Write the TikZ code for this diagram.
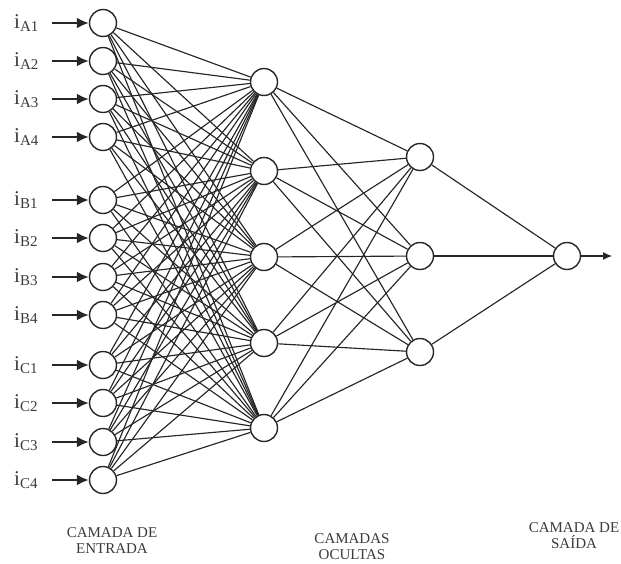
\documentclass[tikz,border=0pt]{standalone}
\usepackage{fontspec}
\setmainfont{Liberation Serif}
\usetikzlibrary{arrows.meta}
\definecolor{ink}{HTML}{262626}
\definecolor{txt}{HTML}{3A3A3A}
\newcommand{\inlab}[1]{\fontsize{21}{21}\selectfont i\raisebox{-0.35ex}{\fontsize{15}{15}\selectfont #1}}
\tikzset{
  neuron/.style={circle,draw=ink,line width=1.4pt,fill=white,minimum size=27pt,inner sep=0pt},
  conn/.style={draw=ink,line width=1.15pt},
  inarrow/.style={draw=ink,line width=2.2pt,-{Latex[length=12pt,width=11pt]}},
  outarrow/.style={draw=ink,line width=1.2pt,-{Latex[length=9pt,width=8pt]}},
  inlabel/.style={anchor=base west,inner sep=0pt,text=txt},
  layerlabel/.style={align=center,text=txt,font=\fontsize{15}{16}\selectfont,inner sep=0pt}
}
\begin{document}
\begin{tikzpicture}[x=1pt,y=-1pt]
\useasboundingbox (0,0) rectangle (621,563);
% input layer
\foreach \i/\y/\l in {1/23/A1,2/61/A2,3/99/A3,4/137/A4,5/200/B1,6/238/B2,7/277/B3,8/315/B4,9/365/C1,10/403/C2,11/442/C3,12/480/C4}{
  \coordinate (a\i) at (52,\y);
  \node[inlabel] (lab\i) at (14,\y+5) {\inlab{\l}};
  \node[neuron] (in\i) at (103,\y) {};
}
% hidden 1
\foreach \j/\y in {1/82,2/171,3/257,4/343,5/428}{
  \node[neuron] (h\j) at (264,\y) {};
}
% hidden 2
\foreach \k/\y in {1/157,2/256,3/352}{
  \node[neuron] (g\k) at (420,\y) {};
}
\node[neuron] (out) at (567,256) {};
\coordinate (oe) at (612,256);
\foreach \i in {1,...,12}{
  \foreach \j in {1,...,5}{
    \draw[conn] (in\i) -- (h\j);
  }
  \draw[inarrow] (a\i) -- (in\i);
}
\foreach \j in {1,...,5}{
  \foreach \k in {1,...,3}{
    \draw[conn] (h\j) -- (g\k);
  }
}
\foreach \k in {1,...,3}{
  \draw[conn] (g\k) -- (out);
}
\draw[outarrow] (out) -- (oe);
% labels
\node[layerlabel] (l1) at (112,541) {CAMADA DE\\ENTRADA};
\node[layerlabel] (l2) at (352,547) {CAMADAS\\OCULTAS};
\node[layerlabel] (l3) at (574,536) {CAMADA DE\\SAÍDA};
\end{tikzpicture}
\end{document}
